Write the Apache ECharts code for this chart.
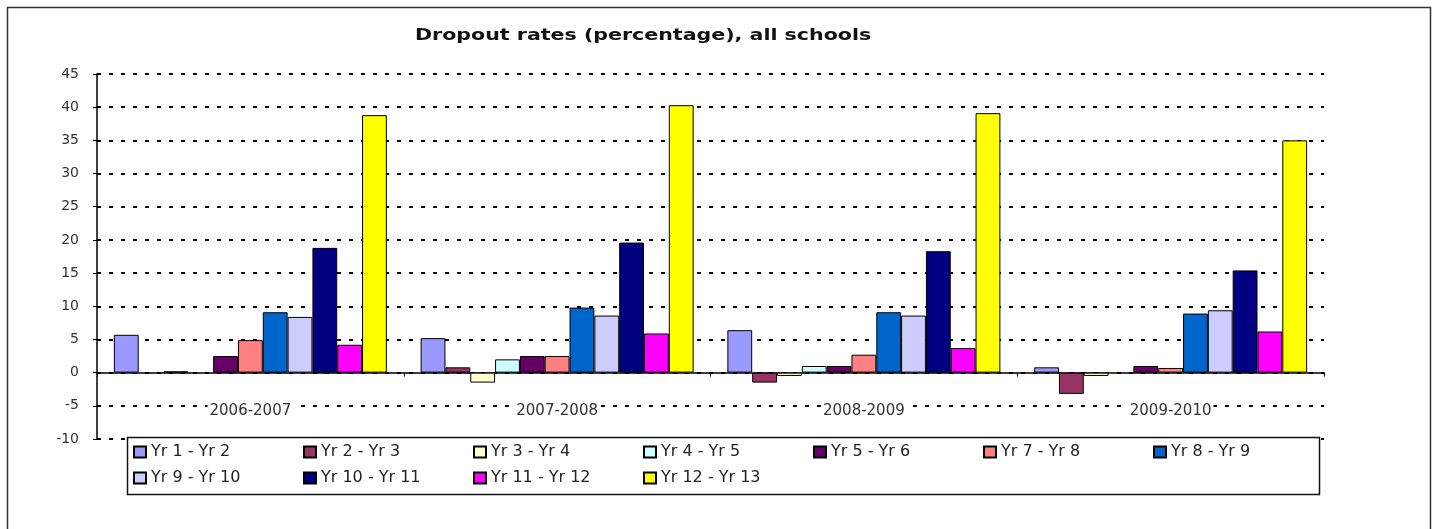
<!DOCTYPE html>
<html>
<head>
<meta charset="utf-8">
<script src="https://cdn.jsdelivr.net/npm/echarts@6/dist/echarts.min.js"></script>
<style>
  html, body { margin: 0; padding: 0; background: #fff; }
  #chart { width: 1437px; height: 529px; }
</style>
</head>
<body>
<div id="chart"></div>
<script>
  // school years on the x axis
  const years = ['2006-2007', '2007-2008', '2008-2009', '2009-2010']

  // dropout rate (%) per year-to-year transition, one value per school year
  const yr1to2 = [5.7, 5.2, 6.4, 0.8]
  const yr2to3 = [null, 0.8, -1.5, -3.2]
  const yr3to4 = [0.2, -1.5, -0.5, -0.5]
  const yr4to5 = [null, 2.0, 1.0, null]
  const yr5to6 = [2.5, 2.5, 1.0, 1.0]
  const yr7to8 = [4.9, 2.5, 2.7, 0.7]
  const yr8to9 = [9.1, 9.8, 9.1, 8.9]
  const yr9to10 = [8.4, 8.6, 8.6, 9.4]
  const yr10to11 = [18.8, 19.6, 18.3, 15.4]
  const yr11to12 = [4.2, 5.9, 3.7, 6.2]
  const yr12to13 = [38.8, 40.3, 39.1, 35.0]

  const seriesNames = ['Yr 1 - Yr 2', 'Yr 2 - Yr 3', 'Yr 3 - Yr 4', 'Yr 4 - Yr 5', 'Yr 5 - Yr 6',
    'Yr 7 - Yr 8', 'Yr 8 - Yr 9', 'Yr 9 - Yr 10', 'Yr 10 - Yr 11', 'Yr 11 - Yr 12', 'Yr 12 - Yr 13']
  const seriesValues = [yr1to2, yr2to3, yr3to4, yr4to5, yr5to6, yr7to8, yr8to9, yr9to10, yr10to11, yr11to12, yr12to13]
  const colors = ['#9999FF', '#993366', '#FFFFCC', '#CCFFFF', '#660066', '#FF8080',
    '#0066CC', '#CCCCFF', '#000080', '#FF00FF', '#FFFF00']

  const font = 'DejaVu Sans'
  const chart = echarts.init(document.getElementById('chart'))

  const option = {
    animation: false,
    color: colors,
    textStyle: { fontFamily: font },
    grid: { left: 97, right: 113, top: 74, bottom: 90 },
    graphic: [
      {
        // outer chart frame
        type: 'rect',
        z: 0,
        shape: { x: 7.5, y: 7.5, width: 1423, height: 540 },
        style: { fill: 'none', stroke: '#333', lineWidth: 1.5 }
      },
      {
        // legend box
        type: 'rect',
        z: 3,
        shape: { x: 127.5, y: 437.5, width: 1192, height: 57 },
        style: { fill: '#fff', stroke: '#111', lineWidth: 1.5 }
      },
      {
        type: 'text',
        z: 5,
        x: 415,
        y: 29,
        scaleX: 1.37,
        style: {
          text: 'Dropout rates (percentage), all schools',
          font: 'bold 15px "DejaVu Sans"',
          fill: '#111',
          verticalAlign: 'top'
        }
      }
    ],
    legend: {
      z: 6,
      left: 133,
      top: 444,
      width: 1190,
      itemGap: 10,
      itemWidth: 12,
      itemHeight: 11,
      icon: 'rect',
      padding: 0,
      formatter: '{a|{name}}',
      textStyle: {
        rich: {
          a: { width: 142, fontSize: 16, color: '#222', fontFamily: font, lineHeight: 17 }
        }
      },
      data: seriesNames
    },
    xAxis: [
      {
        // zero line with the group ticks
        type: 'category',
        data: years,
        axisLine: { onZero: true, lineStyle: { color: '#000', width: 1.5 } },
        axisTick: { show: true, length: 4, lineStyle: { color: '#000' } },
        axisLabel: { show: false },
        splitLine: { show: false }
      },
      {
        // year labels, sitting on the -5 line
        type: 'category',
        data: years,
        position: 'bottom',
        axisLine: { show: false, onZero: false },
        axisTick: { show: false },
        axisLabel: {
          show: true, margin: -35, fontSize: 15, color: '#333', fontFamily: font,
          backgroundColor: '#fff', padding: [0, 2]
        },
        splitLine: { show: false }
      }
    ],
    yAxis: {
      type: 'value',
      min: -10,
      max: 45,
      interval: 5,
      axisLine: { show: true, lineStyle: { color: '#000', width: 1.5 } },
      axisTick: { show: true, length: 4, lineStyle: { color: '#000' } },
      axisLabel: { margin: 18, fontSize: 14, color: '#333', fontFamily: font },
      splitLine: { show: true, lineStyle: { color: '#000', width: 2, type: [4, 8] } }
    },
    series: seriesNames.map((name, i) => ({
      name: name,
      type: 'bar',
      data: seriesValues[i],
      barGap: '0%',
      barCategoryGap: '11%',
      itemStyle: { color: colors[i], borderColor: '#000', borderWidth: 1 }
    }))
  }

  chart.setOption(option)
</script>
</body>
</html>
